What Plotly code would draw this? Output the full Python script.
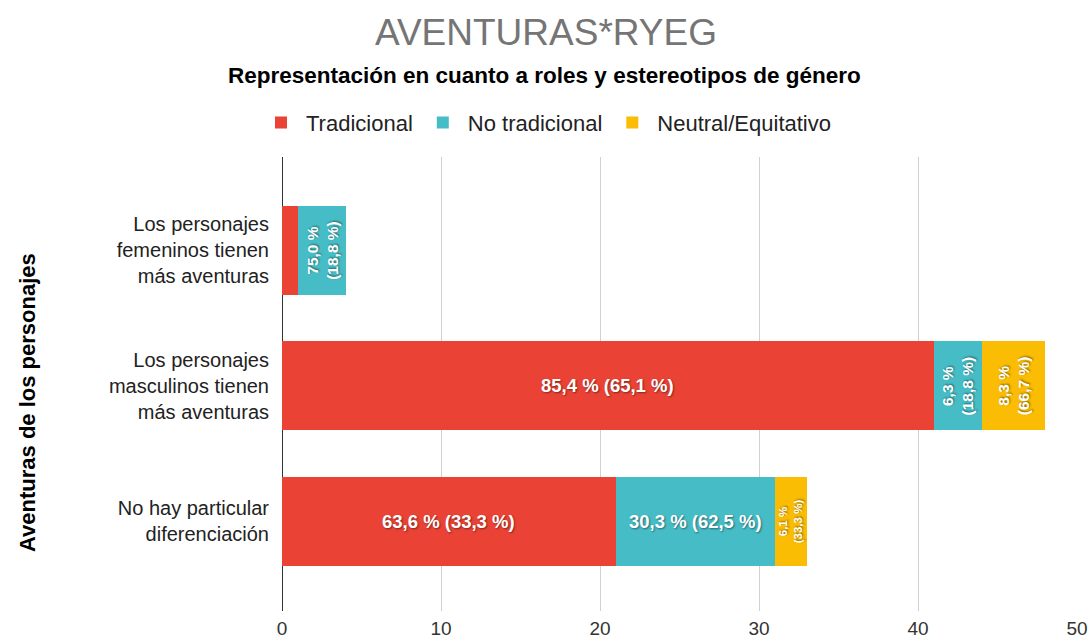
import plotly.graph_objects as go

# Adventure categories (top to bottom) and counts per gender-role representation
categories = [
    "Los personajes<br>femeninos tienen<br>más aventuras",
    "Los personajes<br>masculinos tienen<br>más aventuras",
    "No hay particular<br>diferenciación",
]
tradicional = [1, 41, 21]
no_tradicional = [3, 3, 10]
neutral = [0, 4, 2]

series_names = ["Tradicional", "No tradicional", "Neutral/Equitativo"]
series_values = [tradicional, no_tradicional, neutral]
series_colors = ["#EA4335", "#46BDC6", "#FBBC04"]

x_ticks = [0, 10, 20, 30, 40, 50]

FONT = "Liberation Sans, Arial, sans-serif"

fig = go.Figure()
for name, vals, color in zip(series_names, series_values, series_colors):
    fig.add_trace(go.Bar(
        y=categories, x=vals, name=name, orientation="h",
        marker=dict(color=color, line=dict(width=0)),
        hoverinfo="x+name",
    ))


def fmt(p):
    return f"{round(p + 1e-9, 1):.1f}".replace(".", ",") + " %"


# Segment labels: share of the row total, with share of the column total in brackets
row_totals = [sum(col[i] for col in series_values) for i in range(len(categories))]
col_totals = [sum(vals) for vals in series_values]
annotations = []
for i, cat in enumerate(categories):
    start = 0
    for s, vals in enumerate(series_values):
        v = vals[i]
        mid = start + v / 2
        start += v
        if v < 2:
            continue
        row_pct = fmt(100 * v / row_totals[i])
        col_pct = fmt(100 * v / col_totals[s])
        if v >= 8:
            text, angle, size = f"{row_pct} ({col_pct})", 0, 18.5
        else:
            text, angle, size = f"{row_pct}<br>({col_pct})", -90, (15.5 if v >= 3 else 11.5)
        annotations.append(dict(
            x=mid, y=cat, xref="x", yref="y", text=f"<b>{text}</b>",
            showarrow=False, textangle=angle,
            font=dict(family=FONT, size=size, color="white",
                      shadow="1px 1px 2px rgba(0,0,0,0.45)"),
        ))

# Subtitle and vertical axis title
annotations.append(dict(
    text="<b>Representación en cuanto a roles y estereotipos de género</b>",
    xref="paper", yref="paper", x=0.33, y=1.1806, showarrow=False,
    xanchor="center", yanchor="middle",
    font=dict(family=FONT, size=22.5, color="#000000"),
))
annotations.append(dict(
    text="<b>Aventuras de los personajes</b>",
    xref="paper", yref="paper", x=-0.3203, y=0.459, showarrow=False,
    xanchor="center", yanchor="middle", textangle=-90,
    font=dict(family=FONT, size=22, color="#000000"),
))

fig.update_layout(
    width=1092, height=643,
    margin=dict(l=282, r=15, t=157, b=32),
    paper_bgcolor="white", plot_bgcolor="white",
    barmode="stack", bargap=0.343,
    title=dict(
        text="AVENTURAS*RYEG", xref="container", yref="container",
        x=0.5, y=0.95, xanchor="center", yanchor="middle",
        font=dict(family=FONT, size=37, color="#757575"),
    ),
    legend=dict(
        orientation="h", xref="container", yref="container",
        x=0.5, y=0.809, xanchor="center", yanchor="middle",
        font=dict(family=FONT, size=22, color="#222222"),
        itemclick=False, traceorder="normal", itemwidth=40,
    ),
    xaxis=dict(
        range=[0, 50], tickvals=x_ticks, ticktext=[str(t) for t in x_ticks],
        showgrid=True, gridcolor="#d0d0d0", gridwidth=1,
        zeroline=True, zerolinecolor="#333333", zerolinewidth=1,
        showline=False, ticks="", ticklabelstandoff=4, automargin=False,
        tickfont=dict(family=FONT, size=19, color="#333333"),
        fixedrange=True,
    ),
    yaxis=dict(
        type="category", categoryorder="array", categoryarray=categories,
        range=[2.66, -0.686], showgrid=False, zeroline=False, showline=False,
        ticks="", ticklabelstandoff=12, automargin=False,
        tickfont=dict(family=FONT, size=20, color="#222222"),
        fixedrange=True,
    ),
    annotations=annotations,
)

fig.write_html("out.html")
